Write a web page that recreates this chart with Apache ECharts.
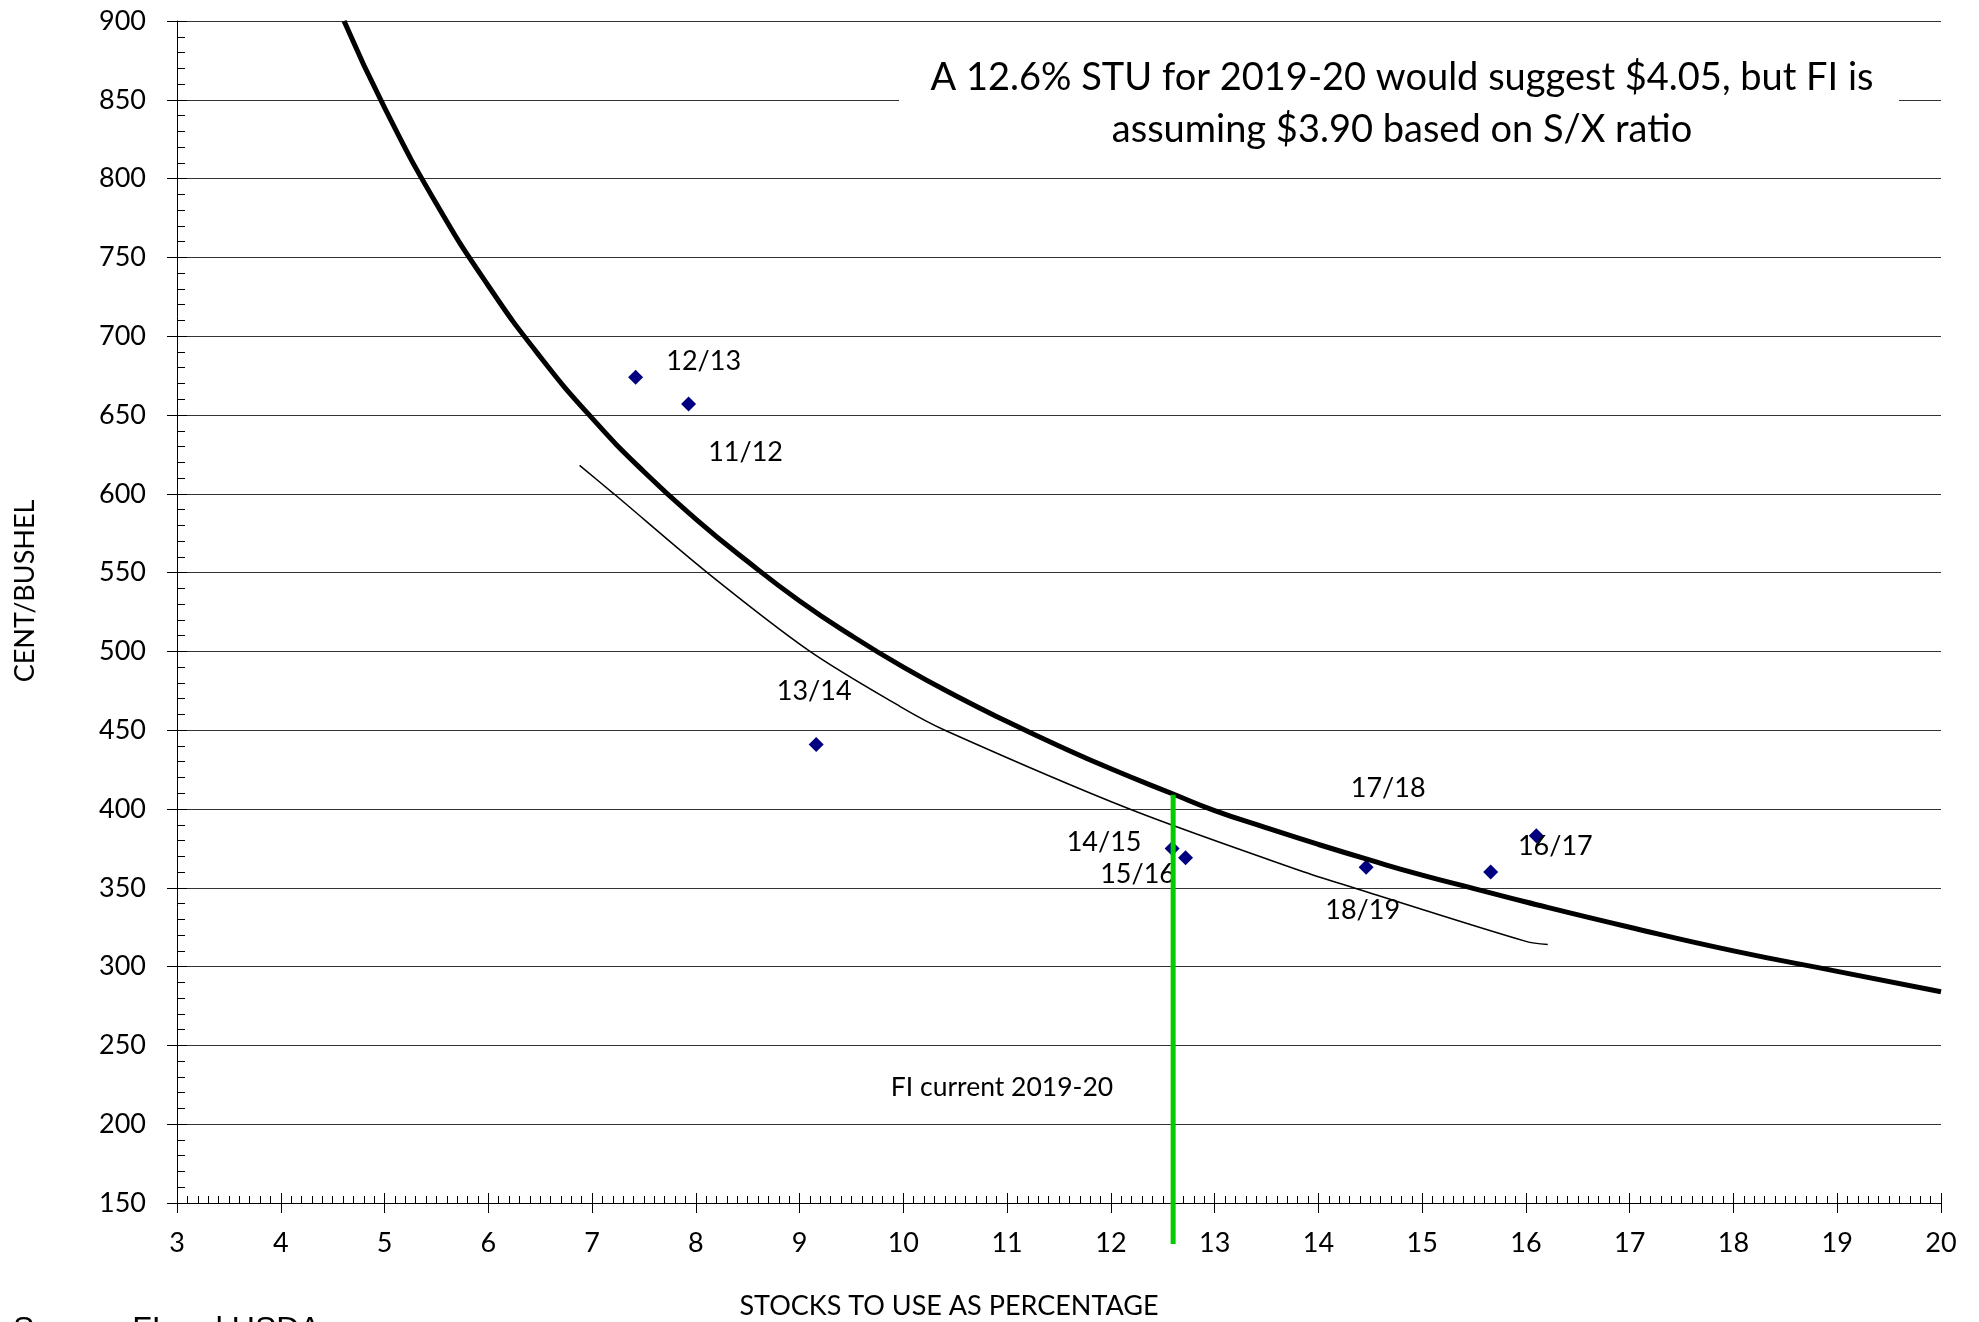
<!DOCTYPE html>
<html>
<head>
<meta charset="utf-8">
<script src="https://cdn.jsdelivr.net/npm/echarts@6/dist/echarts.min.js"></script>
<style>
html,body{margin:0;padding:0;background:#fff;}
#chart{width:1979px;height:1322px;}
</style>
</head>
<body>
<div id="chart"></div>
<script>
// ---- Data ----
// Season labels and scatter points (stocks-to-use %, cents/bushel)
const seasons = ['12/13', '11/12', '13/14', '14/15', '15/16', '17/18', '18/19', '16/17'];
const seasonSTU = [7.42, 7.93, 9.16, 12.59, 12.72, 14.46, 15.66, 16.10];
const seasonPrice = [674, 657, 441, 375, 369, 363, 360, 383];

// Thick fitted curve
const fitX = [4.61, 5.0, 5.5, 6.0, 6.5, 7.0, 7.5, 8.0, 8.5, 9.0, 9.5, 10.0, 10.5, 11.0, 11.5, 12.0, 12.6, 13.0, 13.5, 14.0, 14.5, 15.0, 15.5, 16.0, 17.0, 18.0, 19.0, 20.0];
const fitY = [900, 845, 784, 732, 687, 648, 614, 584, 557, 532, 510, 490, 472, 455.5, 440, 425.5, 409.5, 399, 388, 377.5, 367.5, 358, 349.5, 341, 325, 310, 297, 284];

// Thin curve
const thinX = [6.88, 7.21, 8.11, 9.10, 9.97, 10.40, 12.18, 13.82, 14.34, 16.00, 16.21];
const thinY = [618, 600, 550, 500, 465, 450, 400, 361, 350, 316, 314];

// FI current 2019-20 marker line
const fiX = [12.6, 12.6];
const fiY = [409, 124];

// Axis ranges / ticks
const xMin = 3, xMax = 20, xStep = 1;
const yMin = 150, yMax = 900, yStep = 50;

// ---- Styling (label placement relative to points, pixels) ----
const labelOffsets = {
  '12/13': [68, -16],
  '11/12': [57, 48],
  '13/14': [-2, -53],
  '14/15': [-68, -6],
  '15/16': [-48, 16],
  '17/18': [22, -79],
  '18/19': [-128, 38],
  '16/17': [19, 11]
};

const FONT = 'Lato';
const chart = echarts.init(document.getElementById('chart'), null, {renderer: 'canvas'});

const pair = (xs, ys) => xs.map((x, i) => [x, ys[i]]);

const option = {
  animation: false,
  backgroundColor: '#fff',
  grid: {left: 177, right: 38, top: 21, bottom: 119, containLabel: false},
  xAxis: [
    {
      type: 'value', min: xMin, max: xMax, interval: xStep,
      axisLine: {show: true, lineStyle: {color: '#000', width: 1}},
      axisTick: {show: true, inside: true, length: 10, lineStyle: {color: '#000', width: 1}},
      minorTick: {show: true, splitNumber: 10, length: 7, lineStyle: {color: '#000', width: 1}},
      axisLabel: {margin: 27, fontFamily: FONT, fontSize: 27, color: '#000'},
      splitLine: {show: false}
    },
    {
      type: 'value', min: xMin, max: xMax, interval: xStep, position: 'bottom',
      axisLine: {show: false},
      axisTick: {show: true, inside: false, length: 10, lineStyle: {color: '#000', width: 1}},
      axisLabel: {show: false},
      splitLine: {show: false}
    }
  ],
  yAxis: [
    {
      type: 'value', min: yMin, max: yMax, interval: yStep,
      axisLine: {show: true, lineStyle: {color: '#000', width: 1}},
      axisTick: {show: true, inside: true, length: 10, lineStyle: {color: '#000', width: 1}},
      minorTick: {show: true, splitNumber: 5, length: 8, lineStyle: {color: '#000', width: 1}},
      axisLabel: {margin: 31, fontFamily: FONT, fontSize: 27, color: '#000'},
      splitLine: {show: true, lineStyle: {color: '#333', width: 1}}
    },
    {
      type: 'value', min: yMin, max: yMax, interval: yStep, position: 'left',
      axisLine: {show: false},
      axisTick: {show: true, inside: false, length: 10, lineStyle: {color: '#000', width: 1}},
      axisLabel: {show: false},
      splitLine: {show: false}
    }
  ],
  series: [
    {
      type: 'scatter',
      xAxisIndex: 0, yAxisIndex: 0,
      symbol: 'diamond', symbolSize: 15,
      itemStyle: {color: '#000080', opacity: 1},
      data: seasons.map((s, i) => ({
        name: s,
        value: [seasonSTU[i], seasonPrice[i]],
        label: {offset: labelOffsets[s]}
      })),
      label: {
        show: true, position: 'inside', formatter: '{b}',
        color: '#000', fontFamily: FONT, fontSize: 27
      },
      z: 2
    },
    {
      type: 'line',
      xAxisIndex: 0, yAxisIndex: 0,
      data: pair(fitX, fitY),
      smooth: true, symbol: 'none',
      lineStyle: {color: '#000', width: 5},
      z: 3
    },
    {
      type: 'line',
      xAxisIndex: 0, yAxisIndex: 0,
      data: pair(thinX, thinY),
      smooth: 0.3, symbol: 'none',
      lineStyle: {color: '#000', width: 1.5},
      z: 3
    },
    {
      type: 'line',
      xAxisIndex: 0, yAxisIndex: 0,
      data: pair(fiX, fiY),
      symbol: 'none', clip: false,
      lineStyle: {color: '#00cc00', width: 5},
      z: 4
    }
  ],
  graphic: [
    {
      type: 'rect', z: 50,
      shape: {x: 899, y: 38, width: 1000, height: 122},
      style: {fill: '#fff'}
    },
    {
      type: 'text', z: 51, x: 1402, y: 104,
      style: {
        text: 'A 12.6% STU for 2019-20 would suggest $4.05, but FI is\nassuming $3.90 based on S/X ratio',
        fill: '#000', font: '38px Lato', align: 'center', verticalAlign: 'middle', lineHeight: 52
      }
    },
    {
      type: 'text', z: 51, x: 1002, y: 1087,
      style: {text: 'FI current 2019-20', fill: '#000', font: '26.5px Lato', align: 'center', verticalAlign: 'middle'}
    },
    {
      type: 'text', z: 51, x: 949, y: 1306,
      style: {text: 'STOCKS TO USE AS PERCENTAGE', fill: '#000', font: '27px Lato', align: 'center', verticalAlign: 'middle'}
    },
    {
      type: 'text', z: 51, x: 25, y: 591, rotation: Math.PI / 2,
      style: {text: 'CENT/BUSHEL', fill: '#000', font: '27px Lato', align: 'center', verticalAlign: 'middle'}
    },
    {
      type: 'text', z: 51, x: 13, y: 1314,
      style: {text: 'Source: FI and USDA', fill: '#000', font: '32px "Liberation Sans"', align: 'left', verticalAlign: 'top'}
    }
  ]
};

chart.setOption(option);
</script>
</body>
</html>
